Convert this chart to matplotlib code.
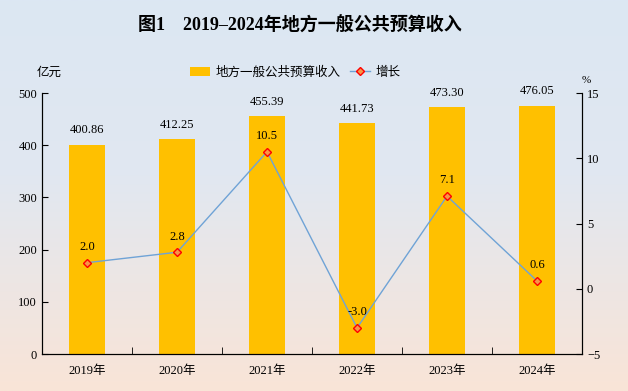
import numpy as np
import matplotlib.pyplot as plt
from matplotlib.colors import LinearSegmentedColormap

years = ['2019年', '2020年', '2021年', '2022年', '2023年', '2024年']
revenue = [400.86, 412.25, 455.39, 441.73, 473.30, 476.05]
growth = [2.0, 2.8, 10.5, -3.0, 7.1, 0.6]

serif = ['Liberation Serif', 'Noto Sans CJK SC']
sans = ['Noto Sans CJK SC', 'DejaVu Sans']

fig = plt.figure(figsize=(6.28, 3.91), dpi=100)

# background gradient, blue on top, peach at bottom
bg = fig.add_axes([0, 0, 1, 1], zorder=-10)
grad = np.linspace(0, 1, 256).reshape(-1, 1)
cmap = LinearSegmentedColormap.from_list('bg', [(0, '#DCE7F3'), (0.45, '#E1E8F1'), (1, '#F9E4D7')])
bg.imshow(grad, aspect='auto', cmap=cmap, extent=[0, 1, 0, 1], origin='upper')
bg.axis('off')

ax = fig.add_axes([0.0669, 0.0946, 0.8599, 0.6674])
ax.patch.set_alpha(0)
x = np.arange(len(years))
bars = ax.bar(x, revenue, width=0.39, color='#FFC000', label='地方一般公共预算收入', zorder=2)
ax.set_ylim(0, 500)
ax.set_xlim(-0.5, 5.5)
ax.set_yticks([0, 100, 200, 300, 400, 500])
ax.set_xticks(x)
ax.set_xticklabels(years)
ax.set_xticks(np.arange(0.5, 5, 1), minor=True)
ax.tick_params(axis='x', which='major', length=0, pad=8)
ax.tick_params(axis='x', which='minor', direction='in', length=5)
ax.tick_params(axis='y', direction='in', length=4, labelsize=9)
ax.spines['top'].set_visible(False)
for lbl in ax.get_xticklabels() + ax.get_yticklabels():
    lbl.set_family(serif)
    lbl.set_fontsize(9)
for xi, v in zip(x, revenue):
    ax.annotate(f'{v:.2f}', (xi, v), xytext=(0, 6), textcoords='offset points',
                ha='center', va='bottom', fontsize=9, family=serif)

ax2 = ax.twinx()
ax2.set_ylim(-5, 15)
ax2.set_yticks([-5, 0, 5, 10, 15])
ax2.tick_params(axis='y', direction='in', length=4)
ax2.spines['top'].set_visible(False)
for lbl in ax2.get_yticklabels():
    lbl.set_family(serif)
    lbl.set_fontsize(9)
line, = ax2.plot(x, growth, color='#6FA3D6', lw=1, marker='D', ms=4,
                 mfc='#F79646', mec='#FF0000', mew=1, label='增长', zorder=3)
for xi, v in zip(x, growth):
    ax2.annotate(f'{v:.1f}', (xi, v), xytext=(0, 7), textcoords='offset points',
                 ha='center', va='bottom', fontsize=9, family=serif)

fig.text(0.078, 0.805, '亿元', fontsize=9, family=sans, ha='center')
fig.text(0.933, 0.787, '%', fontsize=8, family=serif, ha='center')

fig.legend([bars, line], ['地方一般公共预算收入', '增长'], loc='center',
           bbox_to_anchor=(0.47, 0.815), ncol=2, frameon=False,
           prop={'family': sans, 'size': 9}, handlelength=1.6, columnspacing=0.8,
           handletextpad=0.4)

fig.text(0.478, 0.935, '图1　2019–2024年地方一般公共预算收入', ha='center', va='center',
         fontsize=13, fontweight='bold', family=serif)

fig.savefig('out.png', dpi=100)
